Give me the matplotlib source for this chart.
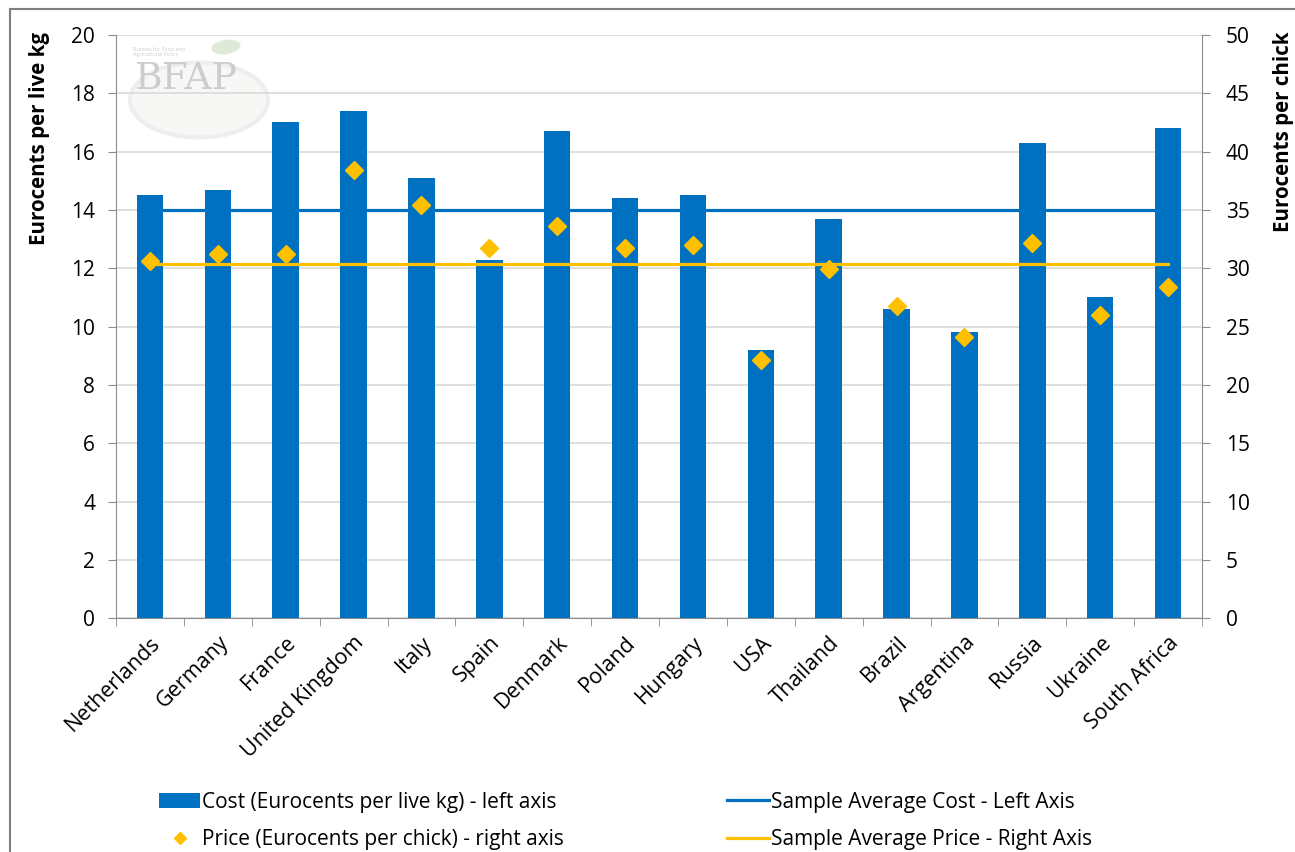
import numpy as np
import matplotlib.pyplot as plt
from matplotlib.patches import Rectangle, Ellipse
from matplotlib.lines import Line2D

# Datos
countries = ["Netherlands", "Germany", "France", "United Kingdom", "Italy", "Spain",
             "Denmark", "Poland", "Hungary", "USA", "Thailand", "Brazil",
             "Argentina", "Russia", "Ukraine", "South Africa"]
cost = [14.5, 14.7, 17.0, 17.4, 15.1, 12.3, 16.7, 14.4, 14.5, 9.2, 13.7, 10.6,
        9.8, 16.3, 11.0, 16.8]
price = [30.6, 31.2, 31.2, 38.4, 35.4, 31.7, 33.6, 31.7, 32.0, 22.1, 29.9, 26.8,
         24.1, 32.2, 26.0, 28.4]
avg_cost = 14.0
avg_price = 30.4

BLUE = "#0070C0"
GOLD = "#FFC000"
GRAY = "#8C8C8C"

plt.rcParams["font.family"] = ["Open Sans", "DejaVu Sans"]

W, H = 1295, 852
fig = plt.figure(figsize=(W / 100, H / 100), dpi=100)

def fx(px):
    return px / W

def fy(py):
    return 1 - py / H

ax = fig.add_axes([fx(116), fy(618.3), fx(1202) - fx(116), fy(35) - fy(618.3)])
x = np.arange(len(countries))

# Logo (marca de agua)
fig.add_artist(Ellipse((fx(199), fy(100)), fx(138), 75 / H, transform=fig.transFigure,
                       facecolor="#f7f7f5", edgecolor="#eeeeee", lw=3, zorder=0))
fig.text(fx(186), fy(79), "BFAP", family="DejaVu Serif", fontsize=27, color="#cdcdcd",
         ha="center", va="center", zorder=1)
fig.text(fx(133), fy(52), "Bureau for Food and\nAgricultural Policy", fontsize=4,
         color="#cfcfcf", ha="left", va="center", linespacing=1.2)
fig.add_artist(Ellipse((fx(226), fy(47)), fx(30), 14 / H, angle=20, transform=fig.transFigure,
                       facecolor="#dfe9da", edgecolor="none", zorder=0))

# Barras y linea media de coste (eje izquierdo)
ax.plot([x[0], x[-1]], [avg_cost, avg_cost], color=BLUE, lw=2.3, zorder=2)
ax.bar(x, cost, width=0.39, color=BLUE, zorder=3)

ax.set_xlim(-0.5, len(countries) - 0.5)
ax.set_ylim(0, 20)
ax.set_yticks(np.arange(0, 21, 2))
ax.grid(axis="y", color="#D9D9D9", lw=1.2, zorder=0)
ax.set_axisbelow(True)
ax.set_facecolor("none")

ax.set_xticks(x)
ax.set_xticklabels(countries, rotation=45, ha="right", rotation_mode="anchor", fontsize=15.5)
ax.set_xticks(np.arange(-0.5, len(countries), 1), minor=True)
ax.tick_params(axis="x", which="major", length=0, pad=10)
ax.tick_params(axis="x", which="minor", length=6, color=GRAY, direction="out")
ax.tick_params(axis="y", length=6, color=GRAY, labelsize=15, pad=9)

for s in ["top", "right"]:
    ax.spines[s].set_visible(False)
ax.spines["left"].set_color(GRAY)
ax.spines["bottom"].set_color(GRAY)

# Eje derecho: precio
ax2 = ax.twinx()
ax2.set_ylim(0, 50)
ax2.set_yticks(np.arange(0, 51, 5))
ax2.plot([x[0], x[-1]], [avg_price, avg_price], color=GOLD, lw=2.3, zorder=3)
ax2.plot(x, price, linestyle="none", marker="D", markersize=9.5, color=GOLD, zorder=4)
ax2.tick_params(axis="y", length=6, color=GRAY, labelsize=15, pad=11)
for s in ["top", "left", "bottom"]:
    ax2.spines[s].set_visible(False)
ax2.spines["right"].set_color(GRAY)

# Etiquetas de los ejes
fig.text(fx(40), fy(32), "Eurocents per live kg", rotation=90, ha="center", va="top",
         fontsize=14.8, fontweight="bold")
fig.text(fx(1283), fy(32), "Eurocents per chick", rotation=90, ha="center", va="top",
         fontsize=14.8, fontweight="bold")

# Leyenda
handles = [
    Rectangle((0, 0), 1, 1, facecolor=BLUE),
    Line2D([], [], linestyle="none", marker="D", markersize=6, color=GOLD),
    Line2D([], [], color=BLUE, lw=2.3),
    Line2D([], [], color=GOLD, lw=2.3),
]
labels = [
    "Cost (Eurocents per live kg) - left axis",
    "Price (Eurocents per chick) - right axis",
    "Sample Average Cost - Left Axis",
    "Sample Average Price - Right Axis",
]
fig.legend(handles, labels, ncol=2, loc="upper left", bbox_to_anchor=(fx(140), fy(773)),
           frameon=False, fontsize=15, handlelength=2.0, handletextpad=0.1,
           columnspacing=7.8, labelspacing=0.8)

# Marco exterior
fig.add_artist(Rectangle((fx(10), -0.1), 1.2, fy(9) + 0.1, transform=fig.transFigure,
                         fill=False, edgecolor="#7f7f7f", lw=1.5))

plt.savefig("out.png", dpi=100)
